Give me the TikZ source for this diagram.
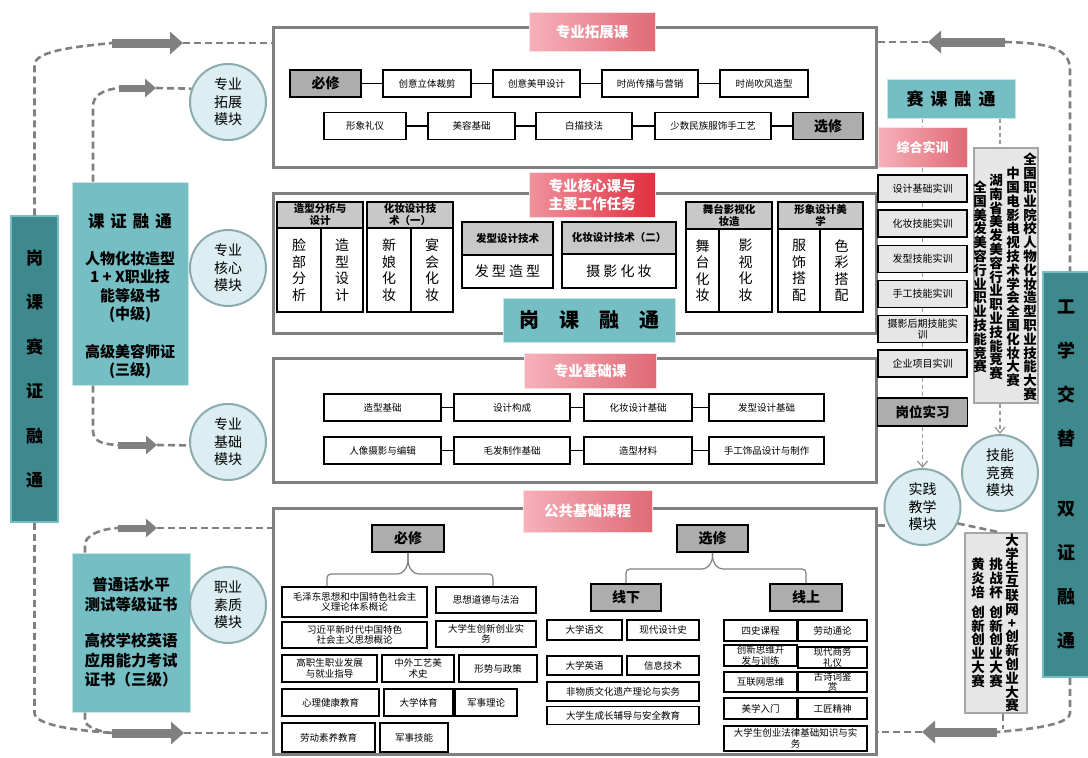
\documentclass[tikz,border=0pt]{standalone}
\usepackage{fontspec}
\setmainfont{Noto Sans CJK SC}
\usetikzlibrary{arrows.meta}
\XeTeXlinebreaklocale "zh"
\definecolor{framegray}{HTML}{808080}
\definecolor{tealdark}{HTML}{3D898E}
\definecolor{teallight}{HTML}{74BEC4}
\definecolor{circfill}{HTML}{DCEEF1}
\definecolor{circline}{HTML}{8BABAD}
\definecolor{boxgray}{HTML}{ADADAD}
\definecolor{headgray}{HTML}{C8C8C8}
\definecolor{pinkA}{HTML}{F6B1BA}
\definecolor{pinkB}{HTML}{E06A76}
\definecolor{redA}{HTML}{F0939E}
\definecolor{redB}{HTML}{E0303F}
\definecolor{compgray}{HTML}{E6E6E6}
\makeatletter
\newcommand\vtxt[1]{\vtxt@loop#1\vtxt@end}
\def\vtxt@loop#1#2\vtxt@end{#1\ifx\relax#2\relax\expandafter\@gobble\else\expandafter\@firstofone\fi{\\\vtxt@loop#2\vtxt@end}}
\makeatother

\begin{document}
\begin{tikzpicture}[x=1pt,y=-1pt,
    sz/.style 2 args={minimum width=#1,minimum height=#2},
    frame/.style={draw=framegray,line width=3pt,fill=white},
    item/.style={draw,line width=1.6pt,fill=white,inner sep=0.5pt,align=center,font=\fontsize{9.5}{10.5}\selectfont},
    graybox/.style={draw,line width=1.8pt,fill=boxgray,inner sep=0pt,font=\bfseries\fontsize{14}{16}\selectfont},
    title/.style={draw=white!60!pinkA,line width=1pt,left color=pinkA,right color=pinkB,text=white,inner sep=0pt,align=center,font=\bfseries\fontsize{14.5}{18}\selectfont},
    head/.style={draw,line width=1.8pt,fill=headgray,inner sep=0pt,align=center,font=\bfseries\fontsize{10.5}{12}\selectfont},
    cell/.style={draw,line width=1.8pt,fill=white,inner sep=0pt,align=center,font=\fontsize{14}{16.5}\selectfont},
    module/.style={circle,draw=circline,line width=2pt,fill=circfill,minimum size=76pt,inner sep=0pt,align=center,font=\fontsize{14}{17.5}\selectfont},
    tealbox/.style={fill=teallight,draw=white!60!teallight,line width=1pt,inner sep=0pt},
    train/.style={draw,line width=1.8pt,fill=compgray,sz={89}{27},inner sep=0pt,align=center,font=\fontsize{10}{11}\selectfont},
    compbox/.style={draw=gray!70,line width=1.2pt,fill=compgray},
    vcol/.style={align=center,inner sep=0pt,font=\bfseries\fontsize{13.5}{13.8}\selectfont},
    dashline/.style={draw=framegray,line width=2.6pt,dash pattern=on 7pt off 4pt},
    thindash/.style={draw=framegray!80,line width=1.3pt,dash pattern=on 4pt off 3pt},
    bigarrow/.style={draw=framegray,line width=9pt,-{Triangle[length=13pt,width=22pt]}},
    smallarrow/.style={draw=framegray,line width=7pt,-{Triangle[length=11pt,width=18pt]}},
    vee/.style={-{Straight Barb[length=6pt,width=10pt]}},
    link/.style={line width=1.4pt},
    brace/.style={draw=gray,line width=1.2pt,rounded corners=4pt}]
  \useasboundingbox (0,0) rectangle (1088,758);

  \node[frame,sz={603}{140}] (fTop) at (574.5,97) {};
  \node[frame,sz={603}{140}] (fCore) at (574.5,263) {};
  \node[frame,sz={603}{124}] (fBas) at (574.5,420) {};
  \node[frame,sz={603}{246}] (fPub) at (574.5,631) {};

  \node[title,sz={126}{39}] (tTop) at (592,31.5) {专业拓展课};
  \node[graybox,sz={71}{27}] (tBx) at (325.5,83.5) {必修};
  \node[item,sz={88}{27}] (t1) at (427,83.5) {创意立体裁剪};
  \node[item,sz={87}{27}] (t2) at (536.5,83.5) {创意美甲设计};
  \node[item,sz={96}{27}] (t3) at (650,83.5) {时尚传播与营销};
  \node[item,sz={88}{27}] (t4) at (764,83.5) {时尚吹风造型};
  \node[item,sz={82}{27}] (t5) at (365,126) {形象礼仪};
  \node[item,sz={87}{27}] (t6) at (471.5,126) {美容基础};
  \node[item,sz={96}{27}] (t7) at (584,126) {白描技法};
  \node[item,sz={116}{27}] (t8) at (713,126) {少数民族服饰手工艺};
  \node[graybox,sz={70}{27}] (tXx) at (828,126) {选修};
  \draw[link] (tBx) -- (t1) -- (t2) -- (t3) -- (t4);
  \draw[link] (t5) -- (t6) -- (t7) -- (t8) -- (tXx);

  \node[title,left color=redA,right color=redB,sz={126}{45}] (tCore) at (592,194.5) {专业核心课与\\主要工作任务};
  \node[head,sz={86}{26}] (g1h) at (320,215) {造型分析与\\设计};
  \node[cell,sz={44}{84}] (g1a) at (299,270) {\vtxt{脸部分析}};
  \node[cell,sz={42}{84}] (g1b) at (342,270) {\vtxt{造型设计}};
  \node[head,sz={86}{26}] (g2h) at (410,215) {化妆设计技\\术（一）};
  \node[cell,sz={44}{84}] (g2a) at (389,270) {\vtxt{新娘化妆}};
  \node[cell,sz={42}{84}] (g2b) at (432,270) {\vtxt{宴会化妆}};
  \node[head,sz={91}{33}] (g3h) at (507.5,238.5) {发型设计技术};
  \node[cell,sz={91}{33}] (g3a) at (507.5,271.5) {发 型 造 型};
  \node[head,sz={114}{32}] (g4h) at (619,238) {化妆设计技术（二）};
  \node[cell,sz={114}{34}] (g4a) at (619,271) {摄 影 化 妆};
  \node[head,sz={86}{27}] (g5h) at (729,215.5) {舞台影视化\\妆造};
  \node[cell,sz={33}{83}] (g5a) at (702.5,270.5) {\vtxt{舞台化妆}};
  \node[cell,sz={53}{83}] (g5b) at (745.5,270.5) {\vtxt{影视化妆}};
  \node[head,sz={85}{27}] (g6h) at (820.5,215.5) {形象设计美\\学};
  \node[cell,sz={42}{83}] (g6a) at (799,270.5) {\vtxt{服饰搭配}};
  \node[cell,sz={43}{83}] (g6b) at (841.5,270.5) {\vtxt{色彩搭配}};
  \node[tealbox,sz={172}{44},font=\bfseries\fontsize{20}{22}\selectfont] (gkrt) at (589,320) {岗\quad 课\quad 融\quad 通};

  \node[title,sz={132}{35}] (tBas) at (590,370.5) {专业基础课};
  \node[item,sz={117}{27}] (b1) at (382.5,407.5) {造型基础};
  \node[item,sz={116}{27}] (b2) at (512,407.5) {设计构成};
  \node[item,sz={108}{27}] (b3) at (638,407.5) {化妆设计基础};
  \node[item,sz={115}{27}] (b4) at (766.5,407.5) {发型设计基础};
  \node[item,sz={117}{27}] (b5) at (382.5,450.5) {人像摄影与编辑};
  \node[item,sz={116}{27}] (b6) at (512,450.5) {毛发制作基础};
  \node[item,sz={108}{27}] (b7) at (638,450.5) {造型材料};
  \node[item,sz={115}{27}] (b8) at (766.5,450.5) {手工饰品设计与制作};
  \draw[link] (b1) -- (b2) -- (b3) -- (b4);
  \draw[link] (b5) -- (b6) -- (b7) -- (b8);

  \node[title,sz={129}{42}] (tPub) at (587.5,511) {公共基础课程};
  \node[graybox,sz={72}{27}] (gbx) at (408,538.5) {必修};
  \node[graybox,sz={71}{27}] (gxx) at (712.5,538.5) {选修};
  \node[item,sz={145}{30}] (m1) at (354.5,602) {毛泽东思想和中国特色社会主\\义理论体系概论};
  \node[item,sz={100}{26}] (m2) at (486,600) {思想道德与法治};
  \node[item,sz={145}{26}] (m3) at (354.5,635) {习近平新时代中国特色\\社会主义思想概论};
  \node[item,sz={100}{26}] (m4) at (486,634) {大学生创新创业实\\务};
  \node[item,sz={95}{27}] (m5) at (329.5,668.5) {高职生职业发展\\与就业指导};
  \node[item,sz={72}{27}] (m6) at (418,668.5) {中外工艺美\\术史};
  \node[item,sz={78}{27}] (m7) at (498,668.5) {形势与政策};
  \node[item,sz={97}{27}] (m8) at (330.5,702.5) {心理健康教育};
  \node[item,sz={69}{27}] (m9) at (418.5,702.5) {大学体育};
  \node[item,sz={62}{27}] (m10) at (486,702.5) {军事理论};
  \node[item,sz={93}{29}] (m11) at (328.5,737.5) {劳动素养教育};
  \node[item,sz={68}{29}] (m12) at (414,737.5) {军事技能};
  \draw[brace] (gbx.south) -- ++(0,12) -- ++(-6,9) -| ([xshift=-27.5pt]m1.north);
  \draw[brace] (gbx.south) -- ++(0,12) -- ++(6,9) -| ([xshift=7pt]m2.north);

  \node[graybox,sz={70}{27}] (xxia) at (626,597.5) {线下};
  \node[graybox,sz={72}{27}] (xshang) at (806,597.5) {线上};
  \draw[brace] (gxx.south) -- ++(0,8) -- ++(-6,8) -| (xxia.north);
  \draw[brace] (gxx.south) -- ++(0,8) -- ++(6,8) -| (xshang.north);
  \node[item,sz={75}{20}] (x1) at (584.5,630) {大学语文};
  \node[item,sz={72}{20}] (x2) at (663,630) {现代设计史};
  \node[item,sz={75}{19}] (x3) at (584.5,665.5) {大学英语};
  \node[item,sz={72}{19}] (x4) at (663,665.5) {信息技术};
  \node[item,sz={152}{19}] (x5) at (623,691.5) {非物质文化遗产理论与实务};
  \node[item,sz={152}{18}] (x6) at (623,715.5) {大学生成长辅导与安全教育};
  \node[item,sz={73}{21}] (s1x) at (760.5,630.5) {四史课程};
  \node[item,sz={69}{21}] (s2x) at (832.5,630.5) {劳动通论};
  \node[item,sz={73}{21}] (s3x) at (760.5,655.5) {创新思维开\\发与训练};
  \node[item,sz={69}{21}] (s4x) at (832.5,657.5) {现代商务\\礼仪};
  \node[item,sz={73}{20}] (s5x) at (760.5,682) {互联网思维};
  \node[item,sz={69}{20}] (s6x) at (832.5,682) {古诗词鉴\\赏};
  \node[item,sz={73}{21}] (s7x) at (760.5,708.5) {美学入门};
  \node[item,sz={69}{21}] (s8x) at (832.5,708.5) {工匠精神};
  \node[item,sz={143}{25}] (s9x) at (795.5,738.5) {大学生创业法律基础知识与实\\务};

  \node[fill=tealdark,draw=teallight,line width=1.5pt,sz={47}{306},inner sep=0pt,align=center,font=\bfseries\fontsize{17}{44.4}\selectfont] (gk) at (34.5,369) {\vtxt{岗课赛证融通}};
  \node[tealbox,sz={116}{203}] (kz) at (130,283.5) {};
  \node[align=center,inner sep=0pt,font=\bfseries\fontsize{15}{18.5}\selectfont] (kzt) at ([yshift=-13pt]kz.center) {{\fontsize{16.5}{18.5}\selectfont 课\hspace{6pt}证\hspace{6pt}融\hspace{6pt}通}\\[18pt]人物化妆造型\\1 + X职业技\\能等级书\\(中级)\\[19pt]高级美容师证\\(三级)};
  \node[tealbox,sz={118}{159}] (pth) at (131,632.5) {};
  \node[align=center,inner sep=0pt,font=\bfseries\fontsize{15.5}{19.5}\selectfont] (ptht) at (pth.center) {普通话水平\\测试等级证书\\[17pt]高校学校英语\\应用能力考试\\证书（三级）};
  \node[module] (c1) at (228,102) {专业\\拓展\\模块};
  \node[module] (c2) at (228,268) {专业\\核心\\模块};
  \node[module] (c3) at (228,442) {专业\\基础\\模块};
  \node[module] (c4) at (228,605) {职业\\素质\\模块};

  \node[fill=tealdark,draw=teallight,line width=1.5pt,sz={47}{405},inner sep=0pt,align=center,font=\bfseries\fontsize{18}{44}\selectfont] (gx) at (1066.5,474.5) {\vtxt{工学交替}\\[26pt]\vtxt{双证融通}};
  \node[tealbox,sz={128}{39},font=\bfseries\fontsize{17}{19}\selectfont] (sk) at (951,98.5) {赛\hspace{7pt}课\hspace{7pt}融\hspace{7pt}通};
  \node[title,sz={89}{40},font=\bfseries\fontsize{13}{15}\selectfont] (zh) at (922.5,147) {综合实训};
  \node[train] (s1) at (922.5,188.5) {设计基础实训};
  \node[train] (s2) at (922.5,223.5) {化妆技能实训};
  \node[train] (s3) at (922.5,259) {发型技能实训};
  \node[train] (s4) at (922.5,294) {手工技能实训};
  \node[train] (s5) at (922.5,329) {摄影后期技能实\\训};
  \node[train] (s6) at (922.5,363.5) {企业项目实训};
  \node[graybox,sz={90}{28},font=\bfseries\fontsize{13.5}{15}\selectfont] (gw) at (922.5,412) {岗位实习};
  \node[module] (sj) at (922.5,507) {实践\\教学\\模块};
  \node[module] (jn) at (1000,473) {技能\\竞赛\\模块};
  \node[compbox,sz={64}{255}] (comp1) at (1006,275.5) {};
  \node[vcol] (q1) at ([xshift=24pt,yshift=-1.5pt]comp1.center) {\vtxt{全国职业院校人物化妆造型职业技能大赛}};
  \node[vcol] (q2) at ([xshift=7pt,yshift=-1.5pt]comp1.center) {\vtxt{中国电影电视技术学会全国化妆大赛}};
  \node[vcol] (q3) at ([xshift=-10pt,yshift=-1.5pt]comp1.center) {\vtxt{湖南省美发美容行业职业技能竞赛}};
  \node[vcol] (q4) at ([xshift=-26pt,yshift=-1.5pt]comp1.center) {\vtxt{全国美发美容行业职业技能竞赛}};
  \node[compbox,sz={62}{180}] (comp2) at (996,623) {};
  \node[vcol] (r1) at ([xshift=16pt]comp2.center) {\vtxt{大学生互联网+创新创业大赛}};
  \node[vcol] (r2) at ([xshift=0pt]comp2.center) {\vtxt{挑战杯}\\[6pt]\vtxt{创新创业大赛}};
  \node[vcol] (r3) at ([xshift=-18pt]comp2.center) {\vtxt{黄炎培}\\[6pt]\vtxt{创新创业大赛}};

  \draw[thindash] (zh.north |- sk.south) -- (zh.north);
  \draw[thindash] (zh) -- (s1) (s1) -- (s2) (s2) -- (s3) (s3) -- (s4) (s4) -- (s5) (s5) -- (s6) (s6) -- (gw);
  \draw[thindash,vee] (gw) -- (sj);
  \draw[thindash] ([xshift=49pt]sk.south) -- ([xshift=-6pt]comp1.north);
  \draw[thindash,vee] ([xshift=-6pt]comp1.south) -- (jn);

  \coordinate (tlA) at (112,43);
  \coordinate (tlB) at (183,43);
  \coordinate (ktA) at (119,88);
  \coordinate (ktB) at (156,88);
  \coordinate (kbA) at (118,445);
  \coordinate (kbB) at (157,445);
  \coordinate (ptA) at (118,528);
  \coordinate (ptB) at (157,528);
  \coordinate (blA) at (112,733);
  \coordinate (blB) at (184,733);
  \coordinate (trA) at (928,42);
  \coordinate (trB) at (1005,42);
  \coordinate (brA) at (922,732);
  \coordinate (brB) at (997,732);
  \coordinate (gxT) at ([xshift=3.5pt]gx.north);
  \coordinate (gxB) at ([xshift=3.5pt]gx.south);

  \draw[dashline] (gk.north) -- ++(0,-150) .. controls +(0,-14) and +(-40,4) .. (tlA);
  \draw[dashline] (tlB) -- (tlB -| fTop.west);
  \draw[dashline] ([xshift=-37pt]kz.north) -- ++(0,-75) .. controls +(0,-10) and +(-18,2) .. (ktA);
  \draw[dashline] (ktB) -- (c1.160);
  \draw[dashline] ([xshift=-37pt]kz.south) -- ++(0,45) .. controls +(0,10) and +(-18,-1) .. (kbA);
  \draw[dashline] (kbB) -- (c3.185);
  \draw[dashline] ([xshift=-46pt]pth.north) -- ++(0,-8) .. controls +(0,-8) and +(-20,1) .. (ptA);
  \draw[dashline] (ptB) -- (ptB -| fPub.west);
  \draw[dashline] (gk.south) -- ++(0,190) .. controls +(0,12) and +(-40,-3) .. (blA);
  \draw[dashline] ([xshift=-46pt]pth.south) -- ++(0,8) .. controls +(0,6) and +(-12,-1) .. (blA);
  \draw[dashline] (blB) -- (blB -| fPub.west);
  \draw[dashline] (fTop.east |- trA) -- (trA);
  \draw[dashline] (trB) .. controls (1048,43) and (1070,48) .. (1070,70) -- (gxT);
  \draw[dashline] (gxB) -- ++(0,35) .. controls +(0,12) and +(35,-3) .. (brB);
  \draw[dashline] (brA) -- (brA -| fPub.east);
  \draw[dashline] ([xshift=7pt]comp2.south) -- ++(0,15);
  \draw[dashline] (fPub.east |- sj.208) -- (sj.208);
  \draw[dashline] (sj.335) -- ([xshift=4pt]comp2.north);

  \draw[bigarrow] (tlA) -- (tlB);
  \draw[smallarrow] (ktA) -- (ktB);
  \draw[smallarrow] (kbA) -- (kbB);
  \draw[smallarrow] (ptA) -- (ptB);
  \draw[bigarrow] (blA) -- (blB);
  \draw[bigarrow] (trB) -- (trA);
  \draw[bigarrow] (brB) -- (brA);
\end{tikzpicture}
\end{document}
